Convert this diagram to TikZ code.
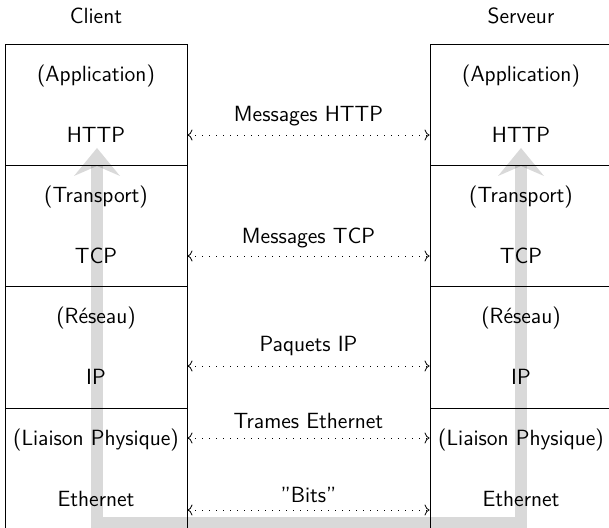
\documentclass[tikz,border=0pt]{standalone}
\usepackage{fontspec}
\usetikzlibrary{arrows.meta,calc}

\tikzset{
  layer/.style={draw, line width=0.5pt, minimum width=91pt, minimum height=60.5pt, inner sep=0pt},
  lbl/.style={font=\fontsize{11}{13}\selectfont\sffamily, anchor=base, inner sep=0pt},
  msg/.style={dash pattern=on 0.4pt off 3.1pt, line width=0.4pt,
    {To[length=2.5pt,width=5.5pt]}-{To[length=2.5pt,width=5.5pt]}},
  band/.style={line width=6pt, opacity=0.15,
    {Stealth[length=14pt,width=23pt,inset=5pt,line width=0pt]}-{Stealth[length=14pt,width=23pt,inset=5pt,line width=0pt]}}
}

\begin{document}
\begin{tikzpicture}[x=0.5pt,y=-0.5pt]
  \useasboundingbox (0,0) rectangle (609,528);
  % the two stacks
  \foreach \i in {0,...,3}{
    \pgfmathsetmacro{\yc}{105.5+121*\i}
    \node[layer] (c\i) at (96,\yc) {};
    \node[layer] (s\i) at (521,\yc) {};
  }
  % path of the data
  \coordinate (bl) at (97,148);
  \coordinate (br) at (521,148);
  \coordinate (bottom) at (0,523);
  \draw[band] (bl) -- (bl |- bottom) -- (br |- bottom) -- (br);
  % labels
  \node[lbl] (client) at (96,24) {Client};
  \node[lbl] (serveur) at (521,24) {Serveur};
  \foreach \i/\role/\proto in {0/{(Application)}/HTTP, 1/{(Transport)}/TCP,
                               2/{(Réseau)}/IP, 3/{(Liaison Physique)}/Ethernet}{
    \node[lbl] (cr\i) at ($(c\i.center)+(0,-23.5)$) {\role};
    \node[lbl] (cp\i) at ($(c\i.center)+(0,37.5)$) {\proto};
    \node[lbl] (sr\i) at ($(s\i.center)+(0,-23.5)$) {\role};
    \node[lbl] (sp\i) at ($(s\i.center)+(0,37.5)$) {\proto};
  }
  % exchanges between the peers
  \foreach \j/\txt/\ty/\ay in {0/Messages HTTP/122/135, 1/Messages TCP/244/256,
                               2/Paquets IP/352/366, 3/Trames Ethernet/428/438,
                               4/{\addfontfeature{Ligatures=TeXOff}"Bits"}/502/510}{
    \coordinate (a\j) at (0,\ay);
    \node[lbl] (m\j) at (308.5,\ty) {\txt};
    \draw[msg] (c0.east |- a\j) -- (s0.west |- a\j);
  }
\end{tikzpicture}
\end{document}
